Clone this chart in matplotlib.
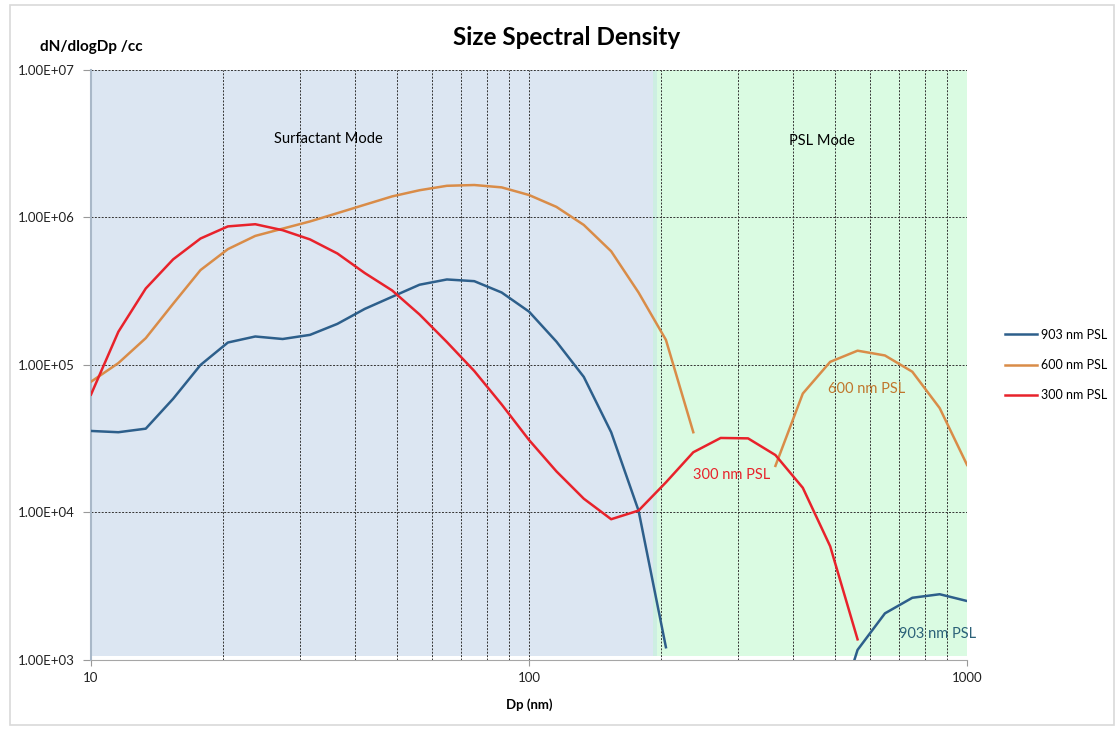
import numpy as np
import matplotlib.pyplot as plt
from matplotlib.patches import Rectangle

plt.rcParams['font.family'] = ['Lato', 'DejaVu Sans']

# Dp bins, 16 per decade, 10 nm .. 1000 nm
dp = 10 * 10 ** (np.arange(33) / 16)

nan = np.nan
psl_903 = [3.57e4, 3.5e4, 3.7e4, 5.9e4, 1.0e5, 1.42e5, 1.56e5, 1.5e5, 1.6e5, 1.9e5,
           2.4e5, 2.9e5, 3.5e5, 3.8e5, 3.7e5, 3.1e5, 2.3e5, 1.44e5, 8.3e4, 3.5e4,
           1.03e4, 1.22e3, nan, nan, nan, nan, nan, 3.0e2, 1.17e3, 2.07e3,
           2.64e3, 2.79e3, 2.51e3]
psl_600 = [7.7e4, 1.03e5, 1.52e5, 2.6e5, 4.4e5, 6.1e5, 7.5e5, 8.4e5, 9.4e5, 1.07e6,
           1.22e6, 1.39e6, 1.53e6, 1.64e6, 1.66e6, 1.6e6, 1.42e6, 1.18e6, 8.9e5, 5.9e5,
           3.1e5, 1.48e5, 3.5e4, nan, nan, 2.07e4, 6.4e4, 1.05e5, 1.25e5, 1.16e5,
           9.0e4, 5.1e4, 2.1e4]
psl_300 = [6.3e4, 1.68e5, 3.3e5, 5.2e5, 7.2e5, 8.7e5, 9.0e5, 8.2e5, 7.1e5, 5.7e5,
           4.2e5, 3.2e5, 2.2e5, 1.43e5, 9.1e4, 5.4e4, 3.1e4, 1.9e4, 1.24e4, 9.0e3,
           1.03e4, 1.6e4, 2.56e4, 3.2e4, 3.18e4, 2.45e4, 1.47e4, 5.9e3, 1.38e3, nan,
           nan, nan, nan]

series = [("903 nm PSL", psl_903, "#2d5f8b"),
          ("600 nm PSL", psl_600, "#d98c48"),
          ("300 nm PSL", psl_300, "#e8222b")]

fig = plt.figure(figsize=(11.2, 7.29), dpi=100)
fig.patches.append(Rectangle((0.009, 0.006), 0.986, 0.987, transform=fig.transFigure,
                             fill=False, edgecolor="#d9d9d9", linewidth=1.2))
ax = fig.add_axes([0.08125, 0.0947, 0.7822, 0.8093])

ax.set_xscale("log")
ax.set_yscale("log")
ax.set_xlim(10, 1000)
ax.set_ylim(1e3, 1e7)

# mode shading
ax.axvspan(10, 192, ymin=0.006, ymax=1, color="#dce6f2", lw=0, zorder=0)
ax.axvspan(192, 196, ymin=0.006, ymax=1, color="#cdeee2", lw=0, zorder=0)
ax.axvspan(196, 1000, ymin=0.006, ymax=1, color="#dafbe2", lw=0, zorder=0)

for label, vals, col in series:
    ax.plot(dp, vals, color=col, lw=1.8, label=label, zorder=3)

ax.grid(True, which="major", axis="both", color="#333333", ls=(0, (2, 1.5)), lw=0.7)
ax.grid(True, which="minor", axis="x", color="#333333", ls=(0, (2, 1.5)), lw=0.7)

ax.set_yticks([1e3, 1e4, 1e5, 1e6, 1e7])
ax.set_yticklabels(["1.00E+03", "1.00E+04", "1.00E+05", "1.00E+06", "1.00E+07"])
ax.set_xticks([10, 100, 1000])
ax.set_xticklabels(["10", "100", "1000"])
ax.yaxis.set_minor_locator(plt.NullLocator())
ax.tick_params(axis="y", which="major", labelsize=9.5, colors="#222222",
               length=6, color="#999999", pad=6)
ax.tick_params(axis="x", which="major", labelsize=9.5, colors="#222222",
               length=4, color="#999999", pad=5)
ax.tick_params(axis="x", which="minor", length=0)

for s in ["top", "right"]:
    ax.spines[s].set_visible(False)
ax.spines["left"].set_color("#a9b8c8")
ax.spines["left"].set_linewidth(1.5)
ax.spines["bottom"].set_color("#a6a6a6")

fig.text(0.506, 0.948, "Size Spectral Density", ha="center", va="center",
         fontsize=17.5, fontweight="bold")
fig.text(0.036, 0.936, "dN/dlogDp /cc", ha="left", va="center",
         fontsize=11, fontweight="bold")
ax.set_xlabel("Dp (nm)", fontsize=9.5, fontweight="bold", labelpad=10)

ax.text(34.8, 3.4e6, "Surfactant Mode", fontsize=10.5, ha="center", va="center")
ax.text(467, 3.3e6, "PSL Mode", fontsize=10.5, ha="center", va="center")
ax.text(590, 6.9e4, "600 nm PSL", fontsize=10.5, ha="center", va="center", color="#c0762c")
ax.text(290, 1.8e4, "300 nm PSL", fontsize=10.5, ha="center", va="center", color="#e8222b")
ax.text(855, 1.5e3, "903 nm PSL", fontsize=10.5, ha="center", va="center", color="#2b6178")

ax.legend(loc="center left", bbox_to_anchor=(1.03, 0.5), frameon=False,
          fontsize=9, handlelength=2.6, handletextpad=0.3, labelspacing=1.45)

fig.savefig("out.png", dpi=100)
